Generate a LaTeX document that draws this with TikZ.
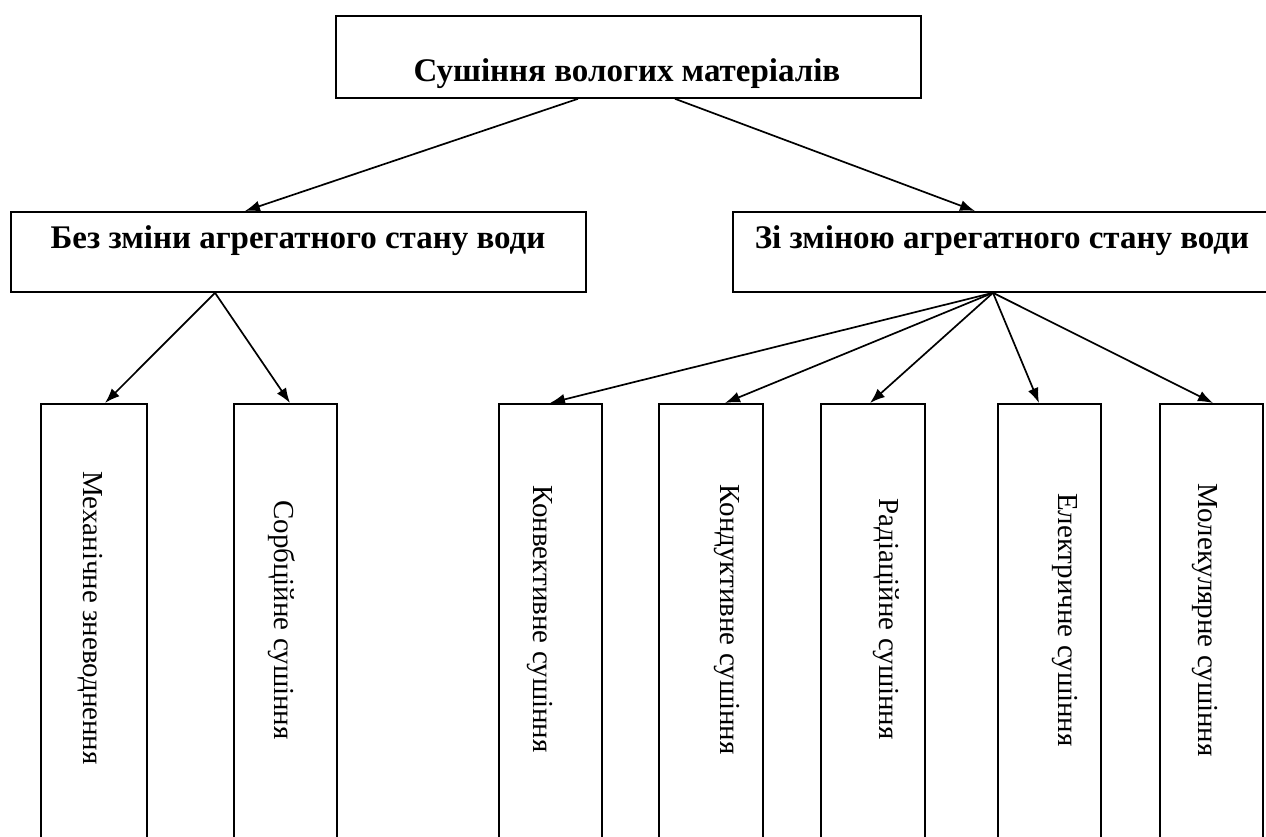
\documentclass[tikz,border=0pt]{standalone}
\usepackage{fontspec}
\setmainfont{Liberation Serif}
\usetikzlibrary{arrows.meta}
\begin{document}
\begin{tikzpicture}[x=1pt,y=-1pt,
  box/.style={draw, line width=1.8pt, inner sep=0pt},
  arr/.style={-{Latex[length=15pt,width=11pt]}, line width=1.7pt},
  headtext/.style={font=\fontsize{33}{38}\selectfont\bfseries, inner sep=0pt},
  vtext/.style={rotate=-90, anchor=east, font=\fontsize{29}{34}\selectfont, inner sep=0pt}]
\clip (0,0) rectangle (1266,836);
\fill[white] (0,0) rectangle (1266,836);
% top
\node[box, anchor=north west, minimum width=585pt, minimum height=82pt] (top) at (335,15) {};
\node[headtext] (toptext) at (627,74) {Сушіння вологих матеріалів};
% middle
\node[box, anchor=north west, minimum width=575pt, minimum height=80pt] (left) at (10,211) {};
\node[headtext] (lefttext) at (298,241) {Без зміни агрегатного стану води};
\node[box, anchor=north west, minimum width=560pt, minimum height=80pt] (right) at (732,211) {};
\node[headtext] (righttext) at (1002,241) {Зі зміною агрегатного стану води};
% bottom boxes
\node[box, anchor=north west, minimum width=106pt, minimum height=500pt] (b1) at (40,403) {};
\node[box, anchor=north west, minimum width=103pt, minimum height=500pt] (b2) at (233,403) {};
\node[box, anchor=north west, minimum width=103pt, minimum height=500pt] (b3) at (498,403) {};
\node[box, anchor=north west, minimum width=104pt, minimum height=500pt] (b4) at (658,403) {};
\node[box, anchor=north west, minimum width=104pt, minimum height=500pt] (b5) at (820,403) {};
\node[box, anchor=north west, minimum width=103pt, minimum height=500pt] (b6) at (997,403) {};
\node[box, anchor=north west, minimum width=103pt, minimum height=500pt] (b7) at (1159,403) {};
% rotated texts
\node[vtext] (t1) at (90,765) {Механічне зневоднення};
\node[vtext] (t2) at (282,740) {Сорбційне сушіння};
\node[vtext] (t3) at (540,753) {Конвективне сушіння};
\node[vtext] (t4) at (727,755) {Кондуктивне сушіння};
\node[vtext] (t5) at (886,740) {Радіаційне сушіння};
\node[vtext] (t6) at (1065,747) {Електричне сушіння};
\node[vtext] (t7) at (1205,757) {Молекулярне сушіння};
% connector anchors
\coordinate (tl) at ([xshift=243pt]top.south west);
\coordinate (tr) at ([xshift=340pt]top.south west);
\coordinate (lr) at ([xshift=205pt]left.south west);
\coordinate (rr) at ([xshift=261pt]right.south west);
% arrows
\draw[arr] (tl) -- ([xshift=235pt]left.north west);
\draw[arr] (tr) -- ([xshift=243pt]right.north west);
\draw[arr] (lr) -- ([xshift=65pt]b1.north west);
\draw[arr] (lr) -- ([xshift=57pt]b2.north west);
\draw[arr] (rr) -- ([xshift=52pt]b3.north west);
\draw[arr] (rr) -- ([xshift=67pt]b4.north west);
\draw[arr] (rr) -- ([xshift=50pt]b5.north west);
\draw[arr] (rr) -- ([xshift=42pt]b6.north west);
\draw[arr] (rr) -- ([xshift=54pt]b7.north west);
\end{tikzpicture}
\end{document}
